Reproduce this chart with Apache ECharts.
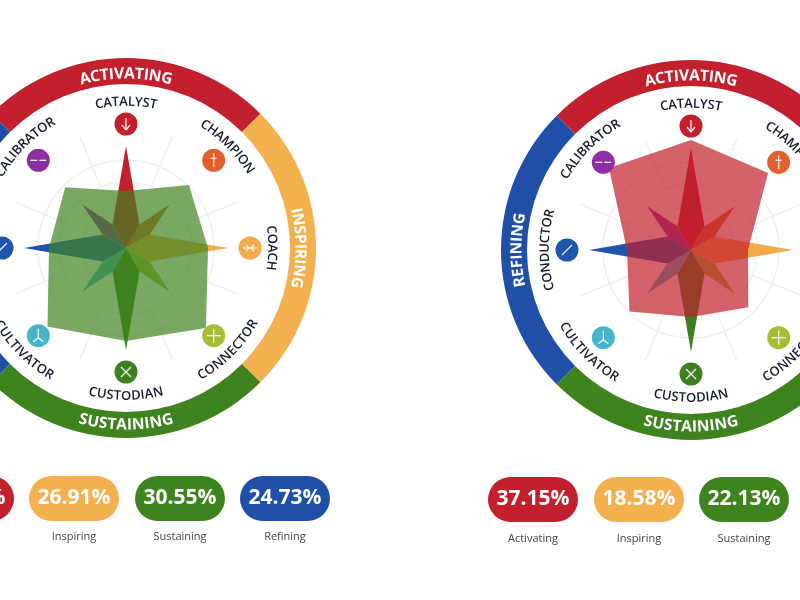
<!DOCTYPE html>
<html>
<head>
<meta charset="utf-8">
<style>
html,body{margin:0;padding:0;background:#fff}
#main{width:800px;height:600px}
</style>
</head>
<body>
<div id="main"></div>
<script src="https://cdn.jsdelivr.net/npm/echarts@6/dist/echarts.min.js"></script>
<script>
// roles, clockwise from the top
var categories = ['CATALYST','CHAMPION','COACH','CONNECTOR','CUSTODIAN','CULTIVATOR','CONDUCTOR','CALIBRATOR'];
var roleAngles = [0,45,90,135,180,225,270,315];
var roleColors = ['#c1202c','#e2602c','#f1ab4a','#a6bc34','#3f7f1f','#47b4ca','#1f56ab','#8e2ea3'];

// polygon values, same order as categories
var leftValues = [57,89,82,113,93,111,77,86];
var rightValues = [110,109,57,81,67,87,64,116];

// compass star
var starLengths = [102,62,102,62,102,62,102,62];
var starSpreads = [30,15,30,15,30,15,30,15];
var starWaist = 27;

// outer band
var bandNames = ['ACTIVATING','INSPIRING','SUSTAINING','REFINING'];
var bandShares = [25,25,25,25];
var bandAngles = [0,90,180,270];
var bandColors = ['#c1202c','#f2b04f','#3f831f','#1f4fa6'];
var bandWords = ['Activating','Inspiring','Sustaining','Refining'];

// pills under each wheel
var leftPercents = ['17.81%','26.91%','30.55%','24.73%'];
var leftPillX = [-76,29,135,240];
var rightPercents = ['37.15%','18.58%','22.13%'];
var rightPillX = [488,594,699];

var spokeAngles = [22.5,67.5,112.5,157.5,202.5,247.5,292.5,337.5];

// white marks inside the round icons, [x1,y1,x2,y2]
var iconMarks = [
  [[0,-6,0,6],[-4,1,0,6],[4,1,0,6]],
  [[0,-7,0,7],[-3,-2,3,-2]],
  [[-7,0,7,0],[-4,-3,-1,0],[-4,3,-1,0],[4,-3,1,0],[4,3,1,0]],
  [[0,-7,0,7],[-7,0,7,0]],
  [[-5,-5,5,5],[-5,5,5,-5]],
  [[0,-7,0,2],[0,2,-5,6],[0,2,5,6]],
  [[-5,5,5,-5]],
  [[-8,0,-1,0],[1,0,8,0]]
];

var myChart = echarts.init(document.getElementById('main'));
var measure = document.createElement('canvas').getContext('2d');

function toRad(d){ return d * Math.PI / 180; }

// radar goes round anticlockwise, so keep the first and flip the rest
function radarOrder(list){
  return [list[0]].concat(list.slice(1).reverse());
}

// one letter per text element, bent along the circle
function arcLetters(api, word, radius, midAngle, font, fill, lowerShift){
  var upper = midAngle > 90 && midAngle < 270;
  var dir = upper ? -1 : 1;
  var r = upper ? radius + lowerShift : radius;
  measure.font = font;
  var total = measure.measureText(word).width;
  var used = 0;
  var kids = [];
  for (var i = 0; i < word.length; i++){
    var w = measure.measureText(word.charAt(i)).width;
    var along = used + w / 2 - total / 2;
    var ang = midAngle + dir * along / r * 180 / Math.PI;
    var p = api.coord([r, ang]);
    kids.push({
      type: 'text',
      x: p[0],
      y: p[1],
      rotation: upper ? -toRad(ang - 180) : -toRad(ang),
      style: {text: word.charAt(i), font: font, fill: fill, align: 'center', verticalAlign: 'middle'}
    });
    used += w;
  }
  return {type: 'group', children: kids};
}

var option = {
  animation: false,
  backgroundColor: '#fff',
  polar: [], angleAxis: [], radiusAxis: [],
  radar: [], series: [], graphic: []
};

function addWheel(cx, cy, values, fill){
  var ringPolar = option.polar.length;
  var markPolar = ringPolar + 1;
  option.polar.push({center: [cx, cy], radius: 88});
  option.polar.push({center: [cx, cy], radius: 190});

  option.angleAxis.push({polarIndex: ringPolar, type: 'value', min: 0, max: 360, startAngle: 90,
    axisLine: {show: false}, axisTick: {show: false}, axisLabel: {show: false}, splitLine: {show: false}});
  option.angleAxis.push({polarIndex: markPolar, type: 'value', min: 0, max: 360, startAngle: 90,
    axisLine: {show: false}, axisTick: {show: false}, axisLabel: {show: false}, splitLine: {show: false}});
  option.radiusAxis.push({polarIndex: ringPolar, type: 'value', min: 0, max: 88, interval: 22,
    axisLine: {show: false}, axisTick: {show: false}, axisLabel: {show: false},
    splitLine: {show: true, lineStyle: {color: '#f0f0f0', width: 1.5}}});
  option.radiusAxis.push({polarIndex: markPolar, type: 'value', min: 0, max: 190,
    axisLine: {show: false}, axisTick: {show: false}, axisLabel: {show: false}, splitLine: {show: false}});

  // band
  option.series.push({
    type: 'pie', silent: true, center: [cx, cy], radius: [164, 190], startAngle: 135,
    label: {show: false}, labelLine: {show: false}, z: 1,
    data: bandShares.map(function(v, i){
      return {value: v, name: bandNames[i], itemStyle: {color: bandColors[i]}};
    })
  });

  // spokes
  option.series.push({
    type: 'custom', coordinateSystem: 'polar', polarIndex: markPolar, silent: true, z: 2,
    data: spokeAngles.map(function(a){ return [120, a]; }),
    renderItem: function(params, api){
      var a = api.value(1);
      var p1 = api.coord([66, a]), p2 = api.coord([api.value(0), a]);
      return {type: 'line', shape: {x1: p1[0], y1: p1[1], x2: p2[0], y2: p2[1]},
        style: {stroke: '#f0f0f0', lineWidth: 1.5}};
    }
  });

  // star
  option.series.push({
    type: 'custom', coordinateSystem: 'polar', polarIndex: markPolar, silent: true, z: 3,
    data: starLengths.map(function(v, i){ return [v, roleAngles[i], starSpreads[i]]; }),
    renderItem: function(params, api){
      var a = api.value(1), s = api.value(2);
      return {type: 'polygon', shape: {points: [
        api.coord([api.value(0), a]),
        api.coord([starWaist, a + s]),
        api.coord([0, a]),
        api.coord([starWaist, a - s])
      ]}, style: {fill: roleColors[params.dataIndex]}};
    }
  });

  // radar polygon on top of the star
  option.radar.push({
    center: [cx, cy], radius: 120, startAngle: 90, splitNumber: 1, shape: 'circle',
    indicator: radarOrder(categories).map(function(c){ return {name: c, max: 120}; }),
    axisName: {show: false}, axisLine: {show: false}, axisTick: {show: false},
    splitLine: {show: false}, splitArea: {show: false}
  });
  option.series.push({
    type: 'radar', radarIndex: option.radar.length - 1, silent: true, z: 4, symbol: 'none',
    lineStyle: {width: 0}, areaStyle: {color: fill, opacity: 0.7},
    data: [{value: radarOrder(values)}]
  });

  // icons
  option.series.push({
    type: 'custom', coordinateSystem: 'polar', polarIndex: markPolar, silent: true, z: 5,
    data: roleAngles.map(function(a){ return [124, a]; }),
    renderItem: function(params, api){
      var p = api.coord([api.value(0), api.value(1)]);
      var kids = [{type: 'circle', shape: {cx: p[0], cy: p[1], r: 11.5}, style: {fill: roleColors[params.dataIndex]}}];
      iconMarks[params.dataIndex].forEach(function(m){
        kids.push({type: 'line', shape: {x1: p[0] + m[0], y1: p[1] + m[1], x2: p[0] + m[2], y2: p[1] + m[3]},
          style: {stroke: '#fff', lineWidth: 1.3, opacity: 0.9}});
      });
      return {type: 'group', children: kids};
    }
  });

  // role names
  option.series.push({
    type: 'custom', coordinateSystem: 'polar', polarIndex: markPolar, silent: true, z: 6,
    data: roleAngles.map(function(a){ return [146, a]; }),
    renderItem: function(params, api){
      return arcLetters(api, categories[params.dataIndex], api.value(0), api.value(1), '600 13px "Open Sans"', '#141c2e', 2);
    }
  });

  // band names
  option.series.push({
    type: 'custom', coordinateSystem: 'polar', polarIndex: markPolar, silent: true, z: 6,
    data: bandAngles.map(function(a){ return [174, a]; }),
    renderItem: function(params, api){
      return arcLetters(api, bandNames[params.dataIndex], api.value(0), api.value(1), '700 15.5px "Open Sans"', '#fff', 3);
    }
  });
}

function addPills(xs, percents, top, wordY){
  percents.forEach(function(txt, i){
    option.graphic.push({type: 'rect', shape: {x: xs[i], y: top, width: 90, height: 45, r: 22.5}, style: {fill: bandColors[i]}, silent: true});
    option.graphic.push({type: 'text', style: {x: xs[i] + 45, y: top + 22.5, text: txt, fill: '#fff', font: '700 21px "Open Sans"', align: 'center', verticalAlign: 'middle'}, silent: true});
    option.graphic.push({type: 'text', style: {x: xs[i] + 45, y: wordY, text: bandWords[i], fill: '#444', font: '11px "Open Sans"', align: 'center', verticalAlign: 'middle'}, silent: true});
  });
}

addWheel(126, 248, leftValues, '#3f831f');
addWheel(691, 250, rightValues, '#c1202c');
addPills(leftPillX, leftPercents, 476, 537);
addPills(rightPillX, rightPercents, 477, 539);

myChart.setOption(option);
</script>
</body>
</html>
